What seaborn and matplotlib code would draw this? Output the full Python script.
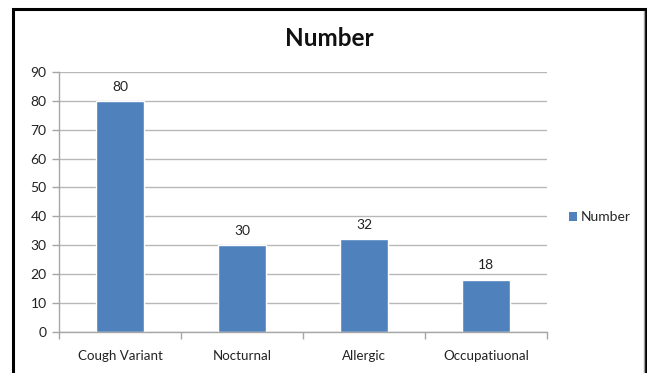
import matplotlib
matplotlib.use("Agg")
import matplotlib.pyplot as plt
import seaborn as sns
import pandas as pd
from matplotlib.patches import Rectangle
from matplotlib.lines import Line2D

categories = ["Cough Variant", "Nocturnal", "Allergic", "Occupatiuonal"]
values = [80, 30, 32, 18]
series_name = "Number"
y_ticks = [0, 10, 20, 30, 40, 50, 60, 70, 80, 90]

df = pd.DataFrame({"category": categories, "value": values, "series": series_name})

sns.set_theme(style="white")
plt.rcParams["font.family"] = ["Lato", "DejaVu Sans"]

W, H = 647, 373
fig = plt.figure(figsize=(W / 100, H / 100), dpi=100)
ax = fig.add_axes([59 / W, 1 - 331.7 / H, (547 - 59) / W, (331.7 - 72) / H])

bar_color = "#4f81bd"
sns.barplot(data=df, x="category", y="value", hue="series", palette=[bar_color],
            width=0.4, ax=ax, legend=False, saturation=1)

ax.set_ylim(0, 90)
ax.set_xlim(-0.5, len(categories) - 0.5)
ax.set_yticks(y_ticks)
ax.yaxis.grid(True, color="#b8b8b8", linewidth=1)
ax.set_axisbelow(True)
ax.set_xlabel("")
ax.set_ylabel("")

for side in ["top", "right"]:
    ax.spines[side].set_visible(False)
for side in ["left", "bottom"]:
    ax.spines[side].set_color("#a6a6a6")
    ax.spines[side].set_linewidth(1)

ax.tick_params(axis="y", which="major", length=5, width=1, color="#a6a6a6",
               labelsize=10, labelcolor="#222222", pad=4, left=True)
ax.tick_params(axis="x", which="major", length=0, labelsize=9.6,
               labelcolor="#222222", pad=13)
ax.set_xticks([i - 0.5 for i in range(len(categories) + 1)], minor=True)
ax.tick_params(axis="x", which="minor", length=5, width=1, color="#a6a6a6",
               bottom=True)

for container in ax.containers:
    ax.bar_label(container, labels=[str(v) for v in values], padding=6,
                 fontsize=10, color="#222222")

fig.text(329 / W, 1 - 39 / H, "Number", ha="center", va="center",
         fontsize=17.5, fontweight="bold", color="#111111")

handle = Rectangle((0, 0), 1, 1, facecolor=bar_color, edgecolor="none")
fig.legend([handle], [series_name], loc="center left",
           bbox_to_anchor=(563 / W, 1 - 217 / H), frameon=False,
           fontsize=10, handlelength=0.6, handleheight=0.6, handletextpad=0.3,
           borderaxespad=0)

# outer frame around the chart
fig.add_artist(Rectangle((13 / W, -0.05), (645.5 - 13) / W, 1.05 - 9.5 / H,
                         transform=fig.transFigure, fill=False,
                         edgecolor="black", linewidth=2.2))
fig.add_artist(Line2D([643.5 / W, 643.5 / W], [0, 1 - 11 / H],
                      transform=fig.transFigure, color="#a0a0a0", linewidth=1))

fig.savefig("out.png", dpi=100)
